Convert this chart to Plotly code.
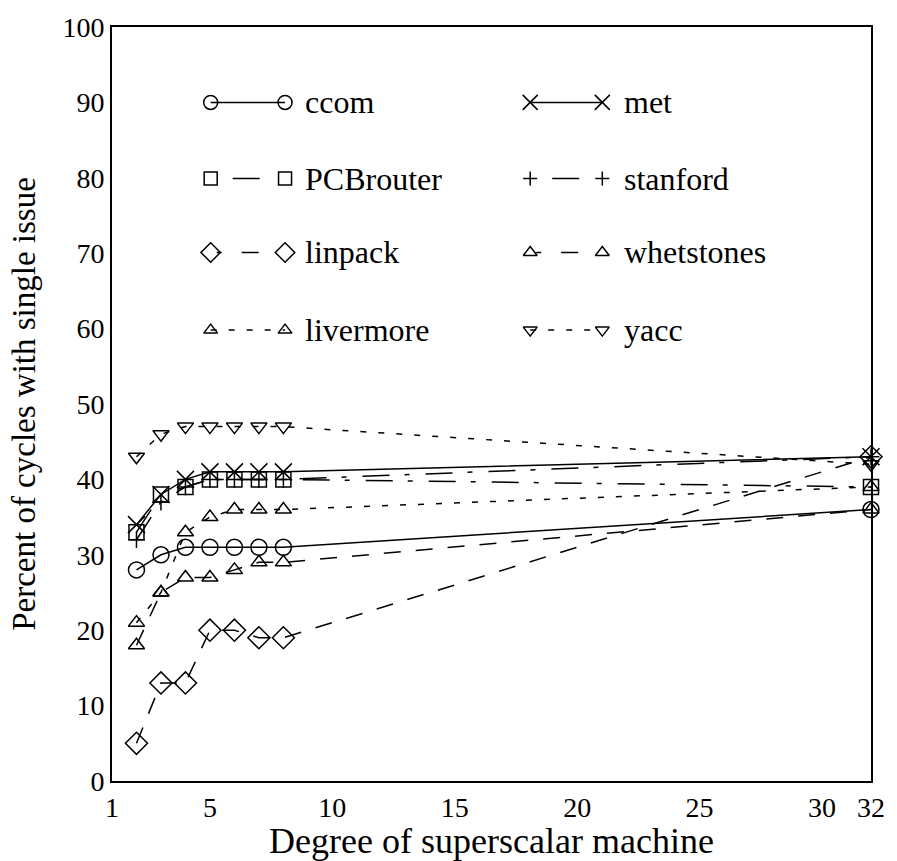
import plotly.graph_objects as go

# Superscalar degree for each measurement
degree = [2, 3, 4, 5, 6, 7, 8, 32]

# Percent of cycles with single issue, per benchmark
ccom = [28, 30, 31, 31, 31, 31, 31, 36]
met = [34, 38, 40, 41, 41, 41, 41, 43]
pcbrouter = [33, 38, 39, 40, 40, 40, 40, 39]
stanford = [32, 37, 39, 40, 40, 40, 40, 43]
linpack = [5, 13, 13, 20, 20, 19, 19, 43]
whetstones = [18, 25, 27, 27, 28, 29, 29, 36]
livermore = [21, 25, 33, 35, 36, 36, 36, 39]
yacc = [43, 46, 47, 47, 47, 47, 47, 42]

x_ticks = [1, 5, 10, 15, 20, 25, 30, 32]
y_ticks = [0, 10, 20, 30, 40, 50, 60, 70, 80, 90, 100]

FONT = "Liberation Serif"
LW = 1.5

series = [
    ("ccom", ccom, "solid", "circle-open", 16),
    ("met", met, "solid", "x-thin-open", 17),
    ("PCBrouter", pcbrouter, "27px,15px,5px,16px", "square-open", 15),
    ("stanford", stanford, "27px,15px,5px,16px", "cross-thin-open", 12),
    ("linpack", linpack, "17px,15px", "diamond-open", 17),
    ("whetstones", whetstones, "17px,15px", "triangle-up-open", 14),
    ("livermore", livermore, "6px,12px", "triangle-up-open", 14),
    ("yacc", yacc, "6px,12px", "triangle-down-open", 14),
]

fig = go.Figure()

for name, vals, dash, sym, size in series:
    fig.add_trace(go.Scatter(
        x=degree, y=vals, mode="lines+markers", name=name, showlegend=False,
        line=dict(color="black", width=LW, dash=dash),
        marker=dict(symbol=sym, size=size, color="black",
                    line=dict(color="black", width=LW)),
        cliponaxis=False,
    ))

# Hand-drawn key: two columns of marker-line-marker samples on an overlay axis
key_cols = [(0.130, 0.228, 0.251), (0.551, 0.646, 0.672)]
key_rows = [0.900, 0.799, 0.701, 0.598]
key_dash = {"27px,15px,5px,16px": "0px,22px,27px,60px",
            "17px,15px": "0px,6px,5px,20px,17px,60px"}
annotations = []
for i, (name, vals, dash, sym, size) in enumerate(series):
    col = key_cols[i % 2]
    row = key_rows[i // 2]
    fig.add_trace(go.Scatter(
        x=[col[0], col[1]], y=[row, row], xaxis="x2", yaxis="y2",
        mode="lines+markers", showlegend=False, hoverinfo="skip",
        line=dict(color="black", width=LW, dash=key_dash.get(dash, dash)),
        marker=dict(symbol=sym, size=size - 2, color="black",
                    line=dict(color="black", width=LW)),
    ))
    annotations.append(dict(
        x=col[2], y=row, xref="x2", yref="y2", text=name, showarrow=False,
        xanchor="left", yanchor="middle",
        font=dict(family=FONT, size=32, color="black"),
    ))

fig.update_layout(
    width=897, height=861,
    margin=dict(l=112, r=17, t=18, b=75),
    paper_bgcolor="white", plot_bgcolor="white",
    font=dict(family=FONT, color="black"),
    showlegend=False,
    annotations=annotations,
    xaxis=dict(
        range=[1, 32], tickvals=x_ticks, ticktext=[str(v) for v in x_ticks],
        showgrid=False, zeroline=False, ticks="",
        showline=True, linecolor="black", linewidth=2, mirror=True,
        tickfont=dict(family=FONT, size=28),
        title=dict(text="Degree of superscalar machine",
                   font=dict(family=FONT, size=36), standoff=1),
    ),
    yaxis=dict(
        range=[0, 100], tickvals=y_ticks,
        showgrid=False, zeroline=False, ticks="",
        showline=True, linecolor="black", linewidth=2, mirror=True,
        tickfont=dict(family=FONT, size=28),
        title=dict(text="Percent of cycles with single issue",
                   font=dict(family=FONT, size=33), standoff=17),
    ),
    xaxis2=dict(overlaying="x", anchor="y2", range=[0, 1], visible=False,
                fixedrange=True),
    yaxis2=dict(overlaying="y", anchor="x2", range=[0, 1], visible=False,
                fixedrange=True),
)

fig.write_html("out.html")
